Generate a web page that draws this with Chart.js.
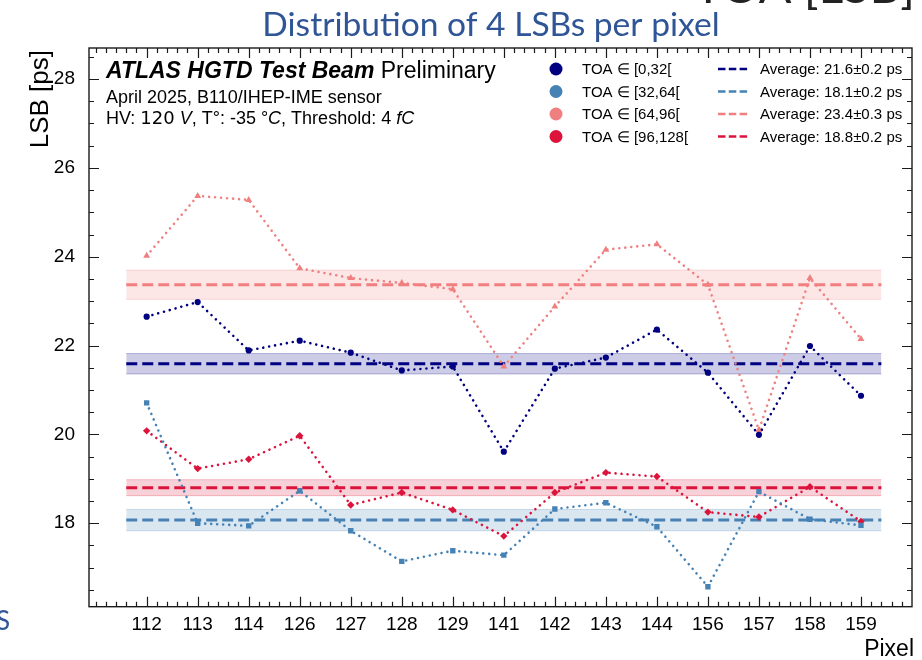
<!DOCTYPE html>
<html>
<head>
<meta charset="utf-8">
<script src="https://cdn.jsdelivr.net/npm/chart.js@4.4.0/dist/chart.umd.min.js"></script>
<style>
  html, body { margin: 0; padding: 0; background: #fff; }
  #wrap { position: relative; width: 922px; height: 660px; }
</style>
</head>
<body>
<div id="wrap"><canvas id="c" width="922" height="660"></canvas></div>
<script>
// Pixels along the x axis
const pixels = ['112','113','114','126','127','128','129','141','142','143','144','156','157','158','159'];

// LSB per pixel [ps], one array per TOA range
const toa0_32   = [22.65, 22.98, 21.89, 22.11, 21.84, 21.44, 21.53, 19.61, 21.48, 21.73, 22.36, 21.39, 19.99, 21.99, 20.87];
const toa32_64  = [20.71, 18.00, 17.94, 18.73, 17.83, 17.14, 17.38, 17.28, 18.32, 18.46, 17.92, 16.57, 18.71, 18.09, 17.95];
const toa64_96  = [24.02, 25.37, 25.28, 23.74, 23.52, 23.41, 23.27, 21.53, 22.88, 24.16, 24.28, 23.37, 20.10, 23.52, 22.15];
const toa96_128 = [20.08, 19.23, 19.44, 19.97, 18.41, 18.69, 18.30, 17.71, 18.69, 19.14, 19.05, 18.25, 18.14, 18.82, 18.04];

// Average over pixels and its uncertainty [ps]
const averages = [21.59, 18.07, 23.37, 18.80];
const avgErrors = [0.23, 0.24, 0.33, 0.18];

const rangeLabels = ['TOA \u2208 [0,32[', 'TOA \u2208 [32,64[', 'TOA \u2208 [64,96[', 'TOA \u2208 [96,128['];
const yTickValues = [18, 20, 22, 24, 26, 28];

const series = [toa0_32, toa32_64, toa64_96, toa96_128];
const colors = ['#000080', '#4682b4', '#f08080', '#dc143c'];
const rgb = [[0, 0, 128], [70, 130, 180], [240, 128, 128], [220, 20, 60]];
const markers = ['circle', 'rect', 'triangle', 'rectRot'];
const markerRadius = [3.1, 3.8, 4.0, 3.7];
const bandSpan = [-0.4, 14.4];

const rgba = (k, a) => `rgba(${rgb[k][0]},${rgb[k][1]},${rgb[k][2]},${a})`;

const datasets = [];
series.forEach((vals, k) => {
  datasets.push({
    label: rangeLabels[k],
    data: vals.map((v, i) => ({ x: i, y: v })),
    borderColor: colors[k],
    backgroundColor: colors[k],
    borderWidth: 2.6,
    borderDash: [0.01, 6],
    borderCapStyle: 'round',
    pointStyle: markers[k],
    pointRadius: markerRadius[k],
    pointBorderWidth: 0,
    fill: false,
    tension: 0,
    order: 0
  });
});
averages.forEach((a, k) => {
  datasets.push({
    data: bandSpan.map(x => ({ x, y: a })),
    borderColor: colors[k],
    borderWidth: 3,
    borderDash: [11, 5],
    pointRadius: 0,
    fill: false,
    order: 1
  });
});
averages.forEach((a, k) => {
  datasets.push({
    data: bandSpan.map(x => ({ x, y: a + avgErrors[k] })),
    borderColor: rgba(k, 0.25),
    borderWidth: 1,
    pointRadius: 0,
    fill: false,
    order: 2
  });
  datasets.push({
    data: bandSpan.map(x => ({ x, y: a - avgErrors[k] })),
    borderColor: rgba(k, 0.25),
    backgroundColor: rgba(k, 0.2),
    borderWidth: 1,
    pointRadius: 0,
    fill: '-1',
    order: 2
  });
});

// Box frame with inward major/minor ticks on all four sides, plus texts and legend
const decorations = {
  id: 'decorations',
  afterDraw(chart) {
    const { ctx, chartArea: a, scales: { x, y } } = chart;
    ctx.save();

    // ticks
    ctx.strokeStyle = '#1a1a1a';
    ctx.lineWidth = 1.2;
    ctx.beginPath();
    for (let i = -2; i <= 15; i++) {
      for (let m = 0; m < 5; m++) {
        const v = i + m / 5;
        if (v <= x.min || v >= x.max) continue;
        const px = Math.round(x.getPixelForValue(v)) + 0.5;
        const len = (m === 0 && i >= 0 && i < pixels.length) ? 10 : 5;
        ctx.moveTo(px, a.bottom); ctx.lineTo(px, a.bottom - len);
        ctx.moveTo(px, a.top); ctx.lineTo(px, a.top + len);
      }
    }
    for (let v = 16.5; v <= 28.5; v += 0.5) {
      if (v <= y.min || v >= y.max) continue;
      const py = Math.round(y.getPixelForValue(v)) + 0.5;
      const len = yTickValues.includes(v) ? 10 : 5;
      ctx.moveTo(a.left, py); ctx.lineTo(a.left + len, py);
      ctx.moveTo(a.right, py); ctx.lineTo(a.right - len, py);
    }
    ctx.stroke();

    // frame
    ctx.lineWidth = 1.4;
    ctx.strokeRect(a.left, a.top, a.right - a.left, a.bottom - a.top);

    // axis titles
    ctx.fillStyle = '#000';
    ctx.font = '26px "Liberation Sans"';
    ctx.save();
    ctx.translate(41, 50);
    ctx.rotate(-Math.PI / 2);
    ctx.textAlign = 'right';
    ctx.textBaseline = 'middle';
    ctx.fillText('LSB [ps]', 0, 0);
    ctx.restore();
    ctx.font = '23px "Liberation Sans"';
    ctx.textAlign = 'right';
    ctx.textBaseline = 'alphabetic';
    ctx.fillText('Pixel', 914, 656);

    // experiment label
    ctx.textAlign = 'left';
    let tx = 106;
    ctx.font = 'italic bold 23px "Liberation Sans"';
    ctx.fillText('ATLAS HGTD Test Beam', tx, 78);
    tx += ctx.measureText('ATLAS HGTD Test Beam').width;
    ctx.font = '23px "Liberation Sans"';
    ctx.fillText(' Preliminary', tx, 78);

    ctx.font = '18px "Liberation Sans"';
    ctx.fillText('April 2025, B110/IHEP-IME sensor', 106, 103);

    const parts = [
      ['HV: ', '18px "Liberation Sans"'],
      ['120', '18px "DejaVu Sans"'],
      [' ', '18px "Liberation Sans"'],
      ['V', 'italic 18px "Liberation Sans"'],
      [', T\u00b0: -35 \u00b0', '18px "Liberation Sans"'],
      ['C', 'italic 18px "Liberation Sans"'],
      [', Threshold: 4 ', '18px "Liberation Sans"'],
      ['fC', 'italic 18px "Liberation Sans"']
    ];
    tx = 106;
    parts.forEach(([t, f]) => {
      ctx.font = f;
      ctx.fillText(t, tx, 124);
      tx += ctx.measureText(t).width;
    });

    // legend: markers column and averages column
    const rows = [69, 91.5, 114, 136.5];
    ctx.font = '15px "Liberation Sans"';
    ctx.textBaseline = 'middle';
    rows.forEach((ry, k) => {
      ctx.fillStyle = colors[k];
      ctx.beginPath();
      ctx.arc(556, ry, 6.5, 0, Math.PI * 2);
      ctx.fill();
      ctx.fillStyle = '#000';
      ctx.fillText(rangeLabels[k], 582, ry + 1);

      ctx.strokeStyle = colors[k];
      ctx.lineWidth = 2.5;
      ctx.setLineDash([7.5, 3.3]);
      ctx.beginPath();
      ctx.moveTo(718, ry); ctx.lineTo(749, ry);
      ctx.stroke();
      ctx.setLineDash([]);
      ctx.fillText(`Average: ${averages[k].toFixed(1)}\u00b1${avgErrors[k].toFixed(1)} ps`, 760, ry + 1);
    });

    // slide heading above the plot
    ctx.textBaseline = 'alphabetic';
    ctx.textAlign = 'center';
    ctx.fillStyle = '#2f5597';
    ctx.font = '28px Lato';
    const heading = 'Distribution of 4 LSBs per pixel';
    const hs = 28 * 458 / ctx.measureText(heading).width;
    ctx.font = `${hs.toFixed(1)}px Lato`;
    ctx.fillText(heading, 491, 36);

    // neighbouring slide text, clipped by the page edges
    ctx.textAlign = 'left';
    ctx.fillStyle = '#222';
    ctx.font = '30px Lato';
    const topText = 'TOA [LSB]';
    const ts = 30 * 221 / ctx.measureText(topText).width;
    ctx.font = `${ts.toFixed(1)}px Lato`;
    ctx.fillText(topText, 694, 3);
    ctx.fillStyle = '#2f5597';
    ctx.font = '26px Lato';
    ctx.fillText('S', -4, 630);

    ctx.restore();
  }
};

new Chart(document.getElementById('c'), {
  type: 'line',
  data: { datasets },
  options: {
    responsive: false,
    animation: false,
    devicePixelRatio: 1,
    layout: { padding: { top: 48, right: 10, left: 0, bottom: 0 } },
    plugins: { legend: { display: false }, tooltip: { enabled: false } },
    scales: {
      x: {
        type: 'linear',
        min: -1.13,
        max: 15,
        grid: { display: false },
        border: { display: false },
        afterBuildTicks: s => { s.ticks = pixels.map((_, i) => ({ value: i })); },
        afterFit: s => { s.height = 53.3; },
        ticks: {
          autoSkip: false,
          maxRotation: 0,
          padding: -1,
          color: '#000',
          font: { family: '"Liberation Sans"', size: 19 },
          callback: v => pixels[v]
        }
      },
      y: {
        type: 'linear',
        min: 16.12,
        max: 28.7,
        grid: { display: false },
        border: { display: false },
        afterBuildTicks: s => { s.ticks = yTickValues.map(v => ({ value: v })); },
        afterFit: s => { s.width = 89; },
        ticks: {
          padding: 6,
          color: '#000',
          font: { family: '"Liberation Sans"', size: 19 }
        }
      }
    }
  },
  plugins: [decorations]
});
</script>
</body>
</html>
